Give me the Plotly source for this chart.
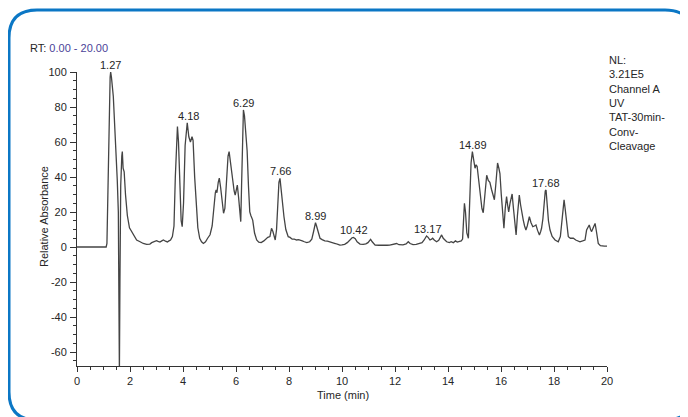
import numpy as np
import plotly.graph_objects as go

# chromatogram trace (time in min, relative absorbance)
time_min = [0.00, 1.10, 1.13, 1.17, 1.21, 1.25, 1.27, 1.30, 1.37, 1.45, 1.52, 1.56, 1.58, 1.60, 1.62, 1.65, 1.69, 1.71,
            1.74, 1.78, 1.83, 1.90, 1.98, 2.06, 2.15, 2.25, 2.38, 2.50, 2.63, 2.75, 2.82, 2.92, 3.00, 3.06, 3.13, 3.20,
            3.26, 3.34, 3.41, 3.47, 3.53, 3.60, 3.66, 3.71, 3.76, 3.79, 3.83, 3.88, 3.93, 3.97, 4.02, 4.08, 4.13, 4.16,
            4.22, 4.28, 4.34, 4.38, 4.44, 4.50, 4.56, 4.63, 4.70, 4.77, 4.85, 4.93, 5.02, 5.10, 5.17, 5.22, 5.25, 5.28,
            5.33, 5.37, 5.42, 5.48, 5.53, 5.58, 5.64, 5.70, 5.74, 5.79, 5.84, 5.88, 5.93, 5.97, 6.01, 6.05, 6.10, 6.15,
            6.18, 6.21, 6.25, 6.28, 6.32, 6.37, 6.42, 6.47, 6.52, 6.56, 6.63, 6.70, 6.78, 6.86, 6.95, 7.05, 7.12, 7.20,
            7.28, 7.34, 7.39, 7.44, 7.48, 7.53, 7.58, 7.62, 7.66, 7.70, 7.75, 7.81, 7.88, 7.97, 8.04, 8.12, 8.20, 8.29,
            8.36, 8.42, 8.50, 8.58, 8.67, 8.78, 8.86, 8.93, 8.97, 9.00, 9.04, 9.10, 9.17, 9.25, 9.35, 9.45, 9.55, 9.65,
            9.75, 9.85, 9.92, 10.00, 10.10, 10.20, 10.30, 10.38, 10.43, 10.50, 10.57, 10.68, 10.80, 10.90, 10.98, 11.04,
            11.08, 11.14, 11.25, 11.40, 11.55, 11.70, 11.80, 11.95, 12.06, 12.15, 12.30, 12.42, 12.50, 12.57, 12.68,
            12.80, 12.92, 13.02, 13.10, 13.15, 13.19, 13.25, 13.32, 13.38, 13.42, 13.48, 13.57, 13.65, 13.71, 13.76,
            13.82, 13.90, 13.95, 14.05, 14.12, 14.20, 14.28, 14.35, 14.42, 14.50, 14.55, 14.58, 14.62, 14.66, 14.71,
            14.77, 14.82, 14.87, 14.92, 14.97, 15.02, 15.06, 15.10, 15.16, 15.22, 15.28, 15.33, 15.38, 15.43, 15.46,
            15.52, 15.58, 15.64, 15.70, 15.75, 15.80, 15.85, 15.87, 15.92, 15.96, 16.01, 16.06, 16.11, 16.16, 16.21,
            16.25, 16.29, 16.34, 16.38, 16.42, 16.47, 16.52, 16.57, 16.62, 16.66, 16.69, 16.74, 16.79, 16.84, 16.89,
            16.94, 16.99, 17.03, 17.07, 17.13, 17.20, 17.26, 17.32, 17.38, 17.45, 17.50, 17.53, 17.58, 17.63, 17.67,
            17.70, 17.74, 17.79, 17.85, 17.93, 18.04, 18.10, 18.16, 18.24, 18.30, 18.35, 18.38, 18.42, 18.48, 18.54,
            18.62, 18.73, 18.82, 18.90, 18.98, 19.08, 19.17, 19.23, 19.28, 19.33, 19.38, 19.42, 19.48, 19.55, 19.60,
            19.67, 19.75, 19.80, 19.90, 20.00]
rel_abs = [0, 0, 2, 35, 75, 97, 100, 97, 86, 62, 38, 20, -20, -72, -20, 35, 52, 54.5,
           45, 43, 30, 18, 11, 9, 6, 4, 3, 2, 1.5, 1.7, 2.5, 3.2, 3.6, 3.2, 2.8, 3.5,
           4, 3.3, 2.9, 3.5, 4, 6, 12, 40, 62, 68.8, 60, 35, 15, 11.6, 25, 58, 69, 71,
           63, 60, 63, 61, 40, 22, 11, 5, 3, 2, 3, 5, 7, 12, 25, 31, 32.6, 31,
           37, 39.4, 34, 25, 19.3, 22, 40, 52, 54.5, 48, 43, 40, 32, 29.7, 33, 35.4, 28, 17,
           14.5, 35, 70, 78.3, 75, 65, 55, 35, 20, 18, 15.4, 8, 4, 2.8, 2.5, 3.5, 4.5, 5.5,
           6, 10.7, 9, 5, 4, 10, 28, 37, 39.2, 33, 24, 17.3, 10, 5.9, 5.5, 4.5, 4.5, 4,
           4.2, 4, 3.5, 3, 2.5, 3, 4.5, 9, 13, 13.9, 12, 8, 5, 4.2, 3.5, 3.3, 3, 2.5,
           2, 1.5, 1.1, 1.2, 1.5, 2.5, 4.3, 5.3, 5.5, 4.8, 3, 1.7, 1.5, 1.8, 2.5, 4,
           4.4, 3, 1.1, 1.0, 1.2, 1.0, 1.1, 1.5, 2, 1.3, 1.2, 1.8, 3, 2, 1.4,
           1.5, 2, 2.5, 4, 5.8, 6.3, 5.5, 4, 4.5, 5, 4, 3, 3.8, 5.5, 6.9,
           5, 3.5, 3, 2.5, 3, 2.5, 3.5, 2.8, 3, 3.5, 4.5, 15, 25, 20, 8,
           5, 25, 48, 54.5, 50, 45, 47, 46, 38, 28, 22, 19.6, 30, 39, 41,
           38, 37, 33, 29, 27, 35, 46, 48, 45, 42, 30, 18, 10.7, 22, 28.8,
           24, 20, 25, 29, 30.3, 22, 12, 6.9, 18, 27, 29.7, 24, 19, 15.4, 12,
           9.7, 12, 16, 17.3, 14, 11.6, 12, 12.6, 9.5, 6.9, 9, 10.7, 16, 27, 32,
           32.6, 25, 15, 9.7, 6, 4, 3.5, 3, 6, 15, 24, 26.9, 22, 12, 5.9,
           5, 5, 4, 3.5, 3, 3.5, 4, 9.7, 11.5, 12.6, 10, 8.8, 11, 13.5, 9,
           2.1, 0.8, 0.6, 0.5, 0.5]

peak_labels = ["1.27", "4.18", "6.29", "7.66", "8.99", "10.42", "13.17", "14.89", "17.68"]
label_pos = [1.27, 4.20, 6.30, 7.68, 8.99, 10.45, 13.23, 14.95, 17.70]

y_tick_vals = [-60, -40, -20, 0, 20, 40, 60, 80, 100]
y_tick_text = ["-60", "-40", "-20", "0", "20", "40", "60", "80", "100"]

nl_lines = ["NL:", "3.21E5", "Channel A", "UV", "TAT-30min-", "Conv-", "Cleavage"]

# page body adds 8px, so the figure is laid out 8px up/left of the target pixels
OFF = 8
W, H = 688, 417
PW, PH = 530, 294
L, T = 77 - OFF, 72 - OFF
R, B = W - L - PW, H - T - PH


def px(x):
    return (x - OFF - L) / PW


def py(y):
    return (H - B - (y - OFF)) / PH


FONT = "Liberation Sans, Arial, sans-serif"
INK = "#262626"

fig = go.Figure()
fig.add_trace(go.Scatter(x=time_min, y=rel_abs, mode="lines",
                         line=dict(color="#444444", width=1.3), hoverinfo="skip"))

t_arr = np.array(time_min)
v_arr = np.array(rel_abs)
annotations = []
for txt, pos in zip(peak_labels, label_pos):
    win = (t_arr > pos - 0.12) & (t_arr < pos + 0.12)
    annotations.append(dict(x=pos, y=v_arr[win].max(), text=txt, showarrow=False,
                            xanchor="center", yanchor="bottom", yshift=-1,
                            font=dict(size=11, color=INK, family=FONT)))

annotations.append(dict(x=px(28), y=py(48), xref="paper", yref="paper", xanchor="left", yanchor="middle",
                        showarrow=False, font=dict(size=11, color=INK, family=FONT),
                        text="RT: <span style='color:#4b3f98'>0.00 - 20.00</span>"))
annotations.append(dict(x=px(607), y=py(52), xref="paper", yref="paper", xanchor="left", yanchor="top",
                        showarrow=False, align="left", font=dict(size=11, color=INK, family=FONT),
                        text="<br>".join(nl_lines)))
annotations.append(dict(x=px(44), y=py(217), xref="paper", yref="paper", textangle=-90,
                        xanchor="center", yanchor="middle",
                        showarrow=False, font=dict(size=11, color=INK, family=FONT),
                        text="Relative Absorbance"))
annotations.append(dict(x=px(343), y=py(395), xref="paper", yref="paper",
                        xanchor="center", yanchor="middle",
                        showarrow=False, font=dict(size=11, color=INK, family=FONT),
                        text="Time (min)"))

# rounded blue frame around the panel (right and bottom edges run just past the picture)
x0, x1, yt, yb, r = 9, 693, 10, 420, 28
rx, ry = r / PW, r / PH
X0, X1, YT, YB = px(x0), px(x1), py(yt), py(yb)
frame = (f"M {X0+rx},{YT} L {X1-rx},{YT} Q {X1},{YT} {X1},{YT-ry} L {X1},{YB+ry} "
         f"Q {X1},{YB} {X1-rx},{YB} L {X0+rx},{YB} Q {X0},{YB} {X0},{YB+ry} "
         f"L {X0},{YT-ry} Q {X0},{YT} {X0+rx},{YT} Z")

fig.update_layout(
    width=W, height=H,
    margin=dict(l=L, r=R, t=T, b=B),
    paper_bgcolor="white", plot_bgcolor="white",
    showlegend=False,
    font=dict(family=FONT, size=11, color=INK),
    annotations=annotations,
    shapes=[dict(type="path", path=frame, xref="paper", yref="paper",
                 line=dict(color="#0b77c5", width=3), layer="above")],
)
fig.update_xaxes(range=[0, 20], showline=True, linecolor="#333", linewidth=1, showgrid=False, zeroline=False,
                 ticks="outside", tick0=0, dtick=2, ticklen=5, tickcolor="#333",
                 minor=dict(ticks="outside", dtick=0.5, ticklen=3, tickcolor="#333", showgrid=False),
                 tickfont=dict(size=11, color=INK, family=FONT))
fig.update_yaxes(range=[-68, 100], showline=True, linecolor="#333", linewidth=1, showgrid=False, zeroline=False,
                 ticks="outside", tickvals=y_tick_vals, ticktext=y_tick_text, ticklen=6, tickcolor="#333",
                 minor=dict(ticks="outside", dtick=5, ticklen=3, tickcolor="#333", showgrid=False),
                 tickfont=dict(size=11, color=INK, family=FONT), ticklabelstandoff=1)

fig.write_html("out.html")
